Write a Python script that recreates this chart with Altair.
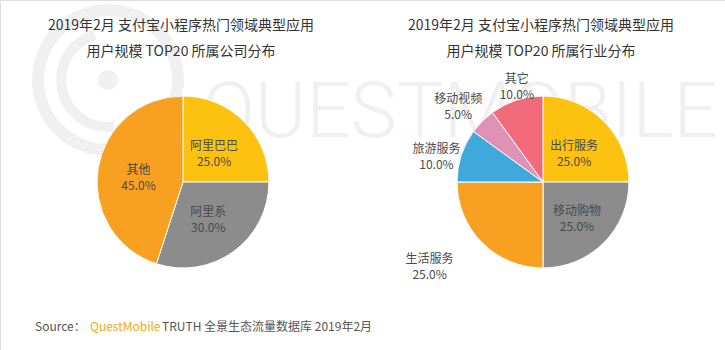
import altair as alt
import pandas as pd

# ---- data ----
left_names = ["阿里巴巴", "阿里系", "其他"]
left_values = [25.0, 30.0, 45.0]
right_names = ["出行服务", "移动购物", "生活服务", "旅游服务", "移动视频", "其它"]
right_values = [25.0, 25.0, 25.0, 10.0, 5.0, 10.0]

title_left = ["2019年2月 支付宝小程序热门领域典型应用", "用户规模 TOP20 所属公司分布"]
title_right = ["2019年2月 支付宝小程序热门领域典型应用", "用户规模 TOP20 所属行业分布"]

# ---- style ----
COLORS = {
    "阿里巴巴": "#FDC20F", "阿里系": "#8C8C8C", "其他": "#F7A021",
    "出行服务": "#FDC20F", "移动购物": "#8C8C8C", "生活服务": "#F7A021",
    "旅游服务": "#3FA9DC", "移动视频": "#DF92B6", "其它": "#F16B7B",
}
LABEL_R = {
    "阿里巴巴": 44, "阿里系": 43, "其他": 45,
    "出行服务": 44, "移动购物": 48, "生活服务": 125,
    "旅游服务": 112, "移动视频": 120, "其它": 104,
}
FONT = "Noto Sans CJK SC"
CX_L, CX_R, CY, R = 183, 543, 182, 86


def frame(names, values):
    return pd.DataFrame({
        "name": names,
        "value": values,
        "idx": list(range(len(names))),
        "color": [COLORS[n] for n in names],
        "lr": [LABEL_R[n] for n in names],
        "label": [f"{n}\n{v:.1f}%" for n, v in zip(names, values)],
    })


dl = frame(left_names, left_values)
dr = frame(right_names, right_values)

one = pd.DataFrame({"a": [0]})

theta = alt.Theta("value:Q", stack=True)
order = alt.Order("idx:Q", sort="ascending")


def pie(df, cx):
    return alt.Chart(df).mark_arc(outerRadius=R, stroke="white", strokeWidth=1).encode(
        theta=theta, order=order,
        color=alt.Color("color:N", scale=None),
        x=alt.value(cx), y=alt.value(CY),
    )


def labels(df, cx, show, dx=0, dy=-5):
    shown = "[" + ",".join(f"'{n}'" for n in show) + "]"
    return alt.Chart(df).transform_window(
        cum="sum(value)", sort=[alt.SortField("idx")], frame=[None, 0]
    ).transform_joinaggregate(total="sum(value)").transform_calculate(
        ang="2 * PI * (datum.cum - datum.value / 2) / datum.total",
        txt=f"indexof({shown}, datum.name) >= 0 ? datum.label : ''",
    ).mark_text(
        font=FONT, fontSize=12, lineBreak="\n", lineHeight=16,
        color="#4a4a4a", align="center", baseline="middle", dx=dx, dy=dy,
    ).encode(
        theta=alt.Theta("ang:Q", scale=None),
        radius=alt.Radius("lr:Q", scale=None),
        text="txt:N",
        x=alt.value(cx), y=alt.value(CY),
    )


def text(t, x, y, size=12, color="#555555", align="left", weight="normal", font=FONT):
    return alt.Chart(one).mark_text(
        font=font, fontSize=size, color=color, align=align, baseline="middle",
        fontWeight=weight, text=t,
    ).encode(x=alt.value(x), y=alt.value(y))


WM = "#f0f0f0"
watermark = [
    alt.Chart(one).mark_arc(innerRadius=64, outerRadius=76, theta=0, theta2=6.2832, color=WM)
    .encode(x=alt.value(108), y=alt.value(80)),
    alt.Chart(one).mark_arc(innerRadius=42, outerRadius=52, theta=3.0, theta2=6.0, color=WM)
    .encode(x=alt.value(108), y=alt.value(80)),
    alt.Chart(one).mark_arc(innerRadius=0, outerRadius=10, theta=0, theta2=6.2832, color=WM)
    .encode(x=alt.value(108), y=alt.value(80)),
    text("QUESTMOBILE", 460, 114, size=78, color=WM, align="center",
         font="Roboto", weight=300),
]

chart = alt.layer(
    *watermark,
    pie(dl, CX_L),
    pie(dr, CX_R),
    labels(dl, CX_L, left_names),
    labels(dr, CX_R, ["出行服务", "移动购物"]),
    labels(dr, CX_R, ["旅游服务", "移动视频"], dy=2),
    labels(dr, CX_R, ["其它"], dx=6, dy=-4),
    labels(dr, CX_R, ["生活服务"], dx=-25, dy=-11),
    text(title_left[0], 181, 26, size=14, color="#333333", align="center"),
    text(title_left[1], 181, 52, size=14, color="#333333", align="center"),
    text(title_right[0], 541, 26, size=14, color="#333333", align="center"),
    text(title_right[1], 541, 52, size=14, color="#333333", align="center"),
    text("Source：", 35, 327, size=12, color="#555555"),
    text("QuestMobile", 90, 327, size=12, color="#F5A623"),
    text("TRUTH 全景生态流量数据库 2019年2月", 162, 327, size=12, color="#555555"),
).properties(
    width=725, height=350, padding=0,
    autosize=alt.AutoSizeParams(type="none"),
).configure_view(stroke=None).configure(background="white")

chart.save("out.html", embed_options={"renderer": "svg", "actions": False})
